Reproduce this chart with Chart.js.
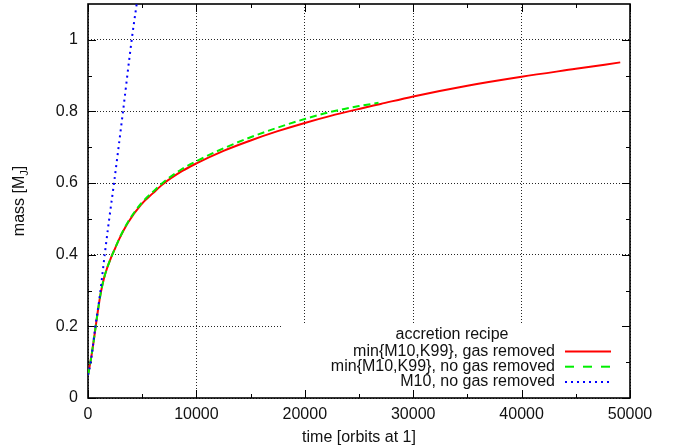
<!DOCTYPE html>
<html>
<head>
<meta charset="utf-8">
<script src="https://cdn.jsdelivr.net/npm/chart.js@4.4.1/dist/chart.umd.min.js"></script>
<style>
  html, body { margin: 0; padding: 0; background: #fff; }
  #wrap { width: 678px; height: 448px; position: relative; }
</style>
</head>
<body>
<div id="wrap"><canvas id="chartMass"></canvas></div>
<script>
// planet mass [M_J] vs time [orbits at 1]
const xTicks = [0, 10000, 20000, 30000, 40000, 50000];
const xMinor = [5000, 15000, 25000, 35000, 45000];
const yTicks = [0, 0.2, 0.4, 0.6, 0.8, 1];
const yMinor = [0.1, 0.3, 0.5, 0.7, 0.9];

// min{M10,K99}, gas removed
const redT = [0, 250, 490, 710, 920, 1170, 1480, 1800, 2100, 2500, 2900, 3700, 4900, 6000, 6900, 8700,
              10000, 12500, 15000, 17500, 20000, 22300, 25000, 27000, 30000, 35000, 40000, 45000, 49100];
const redM = [0.064, 0.105, 0.152, 0.200, 0.245, 0.292, 0.335, 0.366, 0.390, 0.418, 0.445, 0.490, 0.540, 0.572, 0.597, 0.634,
              0.655, 0.690, 0.719, 0.745, 0.768, 0.787, 0.807, 0.821, 0.842, 0.872, 0.897, 0.919, 0.937];

// min{M10,K99}, no gas removed
const greenT = [0, 250, 490, 710, 920, 1170, 1480, 1800, 2100, 2500, 2900, 3700, 4900, 6000, 6900, 8700,
                10000, 12500, 15000, 17500, 20000, 22300, 25000, 26800];
const greenM = [0.064, 0.105, 0.152, 0.200, 0.245, 0.292, 0.335, 0.366, 0.390, 0.418, 0.446, 0.492, 0.543, 0.576, 0.601, 0.640,
                0.661, 0.697, 0.728, 0.755, 0.779, 0.798, 0.815, 0.824];

// M10, no gas removed
const blueT = [0, 250, 680, 1080, 1540, 1940, 2400, 3230, 4030, 4490];
const blueM = [0.064, 0.100, 0.200, 0.283, 0.400, 0.496, 0.600, 0.800, 1.000, 1.100];

const seriesLabels = ['min{M10,K99}, gas removed', 'min{M10,K99}, no gas removed', 'M10, no gas removed'];
const keyTitle = 'accretion recipe';
const xTitle = 'time [orbits at 1]';

const FONT = '"Liberation Sans", Arial, Helvetica, sans-serif';
const INK = '#111';

function pts(t, m) { return t.map((v, i) => ({ x: v, y: m[i] })); }

const keyDash = [[], [9, 9], [2, 4]];

const frameAndKey = {
  id: 'frameAndKey',
  beforeDatasetsDraw(chart) {
    const { ctx, chartArea: a, scales: { x, y } } = chart;
    ctx.save();
    // key box is opaque, hides the grid behind it
    ctx.fillStyle = '#fff';
    ctx.fillRect(283, 325, a.right - 283, a.bottom - 325);

    // inside ticks on all four sides
    ctx.strokeStyle = '#000';
    ctx.lineWidth = 1;
    ctx.beginPath();
    const xt = (vals, len) => vals.forEach(v => {
      const px = Math.round(x.getPixelForValue(v)) + 0.5;
      ctx.moveTo(px, a.bottom); ctx.lineTo(px, a.bottom - len);
      ctx.moveTo(px, a.top); ctx.lineTo(px, a.top + len);
    });
    const yt = (vals, len) => vals.forEach(v => {
      const py = Math.round(y.getPixelForValue(v)) + 0.5;
      ctx.moveTo(a.left, py); ctx.lineTo(a.left + len, py);
      ctx.moveTo(a.right, py); ctx.lineTo(a.right - len, py);
    });
    xt(xTicks, 8); xt(xMinor, 4);
    yt(yTicks, 8); yt(yMinor, 4);
    ctx.stroke();

    ctx.lineWidth = 1.6;
    ctx.strokeRect(a.left, a.top, a.width, a.height);
    ctx.restore();
  },
  afterDatasetsDraw(chart) {
    const { ctx } = chart;
    ctx.save();
    ctx.font = '16px ' + FONT;
    ctx.fillStyle = INK;
    ctx.textBaseline = 'middle';
    ctx.textAlign = 'center';
    ctx.fillText(keyTitle, 452, 335);
    ctx.textAlign = 'right';
    seriesLabels.forEach((lab, i) => {
      const ry = 351.5 + i * 15.2;
      ctx.fillText(lab, 555, ry);
      const ds = chart.data.datasets[i];
      ctx.strokeStyle = ds.borderColor;
      ctx.lineWidth = 2;
      ctx.setLineDash(keyDash[i]);
      ctx.beginPath();
      ctx.moveTo(565, ry); ctx.lineTo(611, ry);
      ctx.stroke();
    });
    ctx.restore();
  },
  afterDraw(chart) {
    const { ctx, chartArea: a } = chart;
    ctx.save();
    ctx.fillStyle = INK;
    ctx.textBaseline = 'middle';
    ctx.font = '16px ' + FONT;
    ctx.textAlign = 'center';
    ctx.fillText(xTitle, (a.left + a.right) / 2, 438);

    // y title with subscript J, rotated
    const big = '16px ' + FONT, small = '11px ' + FONT;
    ctx.font = big;
    const w1 = ctx.measureText('mass [M').width;
    const w3 = ctx.measureText(']').width;
    ctx.font = small;
    const w2 = ctx.measureText('J').width;
    const total = w1 + w2 + w3;
    ctx.translate(20, (a.top + a.bottom) / 2);
    ctx.rotate(-Math.PI / 2);
    ctx.textAlign = 'left';
    let cx = -total / 2;
    ctx.font = big; ctx.fillText('mass [M', cx, 0); cx += w1;
    ctx.font = small; ctx.fillText('J', cx, 5); cx += w2;
    ctx.font = big; ctx.fillText(']', cx, 0);
    ctx.restore();
  }
};

const gridStyle = { color: 'rgba(0,0,0,0.85)', lineWidth: 1, drawTicks: false };

new Chart(document.getElementById('chartMass').getContext('2d'), {
  type: 'line',
  data: {
    datasets: [
      { label: seriesLabels[0], data: pts(redT, redM), borderColor: '#ff0000', borderWidth: 2,
        cubicInterpolationMode: 'monotone', order: 3 },
      { label: seriesLabels[1], data: pts(greenT, greenM), borderColor: '#00ee00', borderWidth: 2,
        borderDash: [7, 4], cubicInterpolationMode: 'monotone', order: 2 },
      { label: seriesLabels[2], data: pts(blueT, blueM), borderColor: '#0000ff', borderWidth: 2,
        borderDash: [2, 4], cubicInterpolationMode: 'monotone', order: 1 }
    ]
  },
  options: {
    animation: false,
    responsive: true,
    maintainAspectRatio: false,
    devicePixelRatio: 1,
    layout: { padding: { left: 0, right: 48, top: 4, bottom: 0 } },
    elements: { point: { radius: 0 }, line: { fill: false } },
    plugins: { legend: { display: false }, tooltip: { enabled: false } },
    scales: {
      x: {
        type: 'linear', min: 0, max: 50000,
        afterBuildTicks: (s) => { s.ticks = xTicks.map(v => ({ value: v })); },
        afterFit: (s) => { s.height = 50; s.paddingLeft = 0; s.paddingRight = 0; },
        grid: gridStyle,
        border: { display: false, dash: [1, 2] },
        ticks: { padding: 7, maxRotation: 0, color: INK, font: { family: FONT, size: 16 },
                 callback: (v) => String(v) }
      },
      y: {
        type: 'linear', min: 0, max: 1.1,
        afterBuildTicks: (s) => { s.ticks = yTicks.map(v => ({ value: v })); },
        afterFit: (s) => { s.width = 88; s.paddingTop = 0; s.paddingBottom = 0; },
        grid: gridStyle,
        border: { display: false, dash: [1, 2] },
        ticks: { padding: 10, color: INK, font: { family: FONT, size: 16 },
                 callback: (v) => String(v) }
      }
    }
  },
  plugins: [frameAndKey]
});
</script>
</body>
</html>
